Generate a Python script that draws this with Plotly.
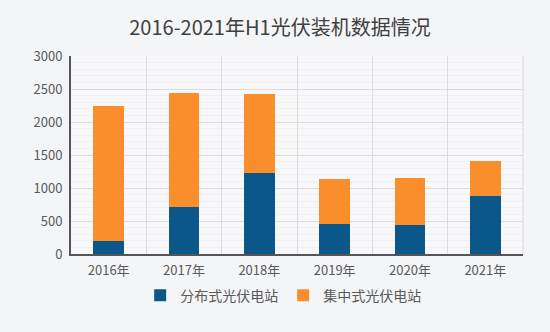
import plotly.graph_objects as go

years = ["2016年", "2017年", "2018年", "2019年", "2020年", "2021年"]
distributed = [190, 710, 1220, 450, 440, 875]
centralized = [2060, 1730, 1210, 690, 710, 535]
y_ticks = [0, 500, 1000, 1500, 2000, 2500, 3000]

font = "Noto Sans CJK SC, Open Sans, sans-serif"

fig = go.Figure()
fig.add_trace(go.Bar(x=years, y=distributed, name="分布式光伏电站",
                     marker=dict(color="#0b5789", line=dict(width=0))))
fig.add_trace(go.Bar(x=years, y=centralized, name="集中式光伏电站",
                     marker=dict(color="#fb8e2c", line=dict(width=0))))

fig.update_layout(
    width=550, height=332,
    barmode="stack", bargap=0.59,
    paper_bgcolor="#f4f5f7", plot_bgcolor="#f8f8fa",
    margin=dict(l=71, r=27, t=56, b=78),
    title=dict(text="2016-2021年H1光伏装机数据情况", x=0.509, xanchor="center",
               y=0.915, yanchor="middle",
               font=dict(family=font, size=20, color="#404040")),
    font=dict(family=font, size=13, color="#595959"),
    showlegend=True,
    legend=dict(orientation="h", x=0.153, xanchor="left", y=-0.13, yanchor="top",
                font=dict(size=14, color="#595959"), itemwidth=30,
                traceorder="normal", bgcolor="rgba(0,0,0,0)"),
    xaxis=dict(type="category", tickson="boundaries", showgrid=True,
               gridcolor="#dcdcdc", gridwidth=1, ticks="", showline=True,
               linecolor="#555555", linewidth=2, mirror=False,
               ticklabelstandoff=3,
               tickfont=dict(size=13, color="#595959")),
    yaxis=dict(range=[0, 3000], tickvals=y_ticks, showgrid=True,
               gridcolor="#dcdcdc", gridwidth=1, showline=True,
               linecolor="#555555", linewidth=2, zeroline=False, ticks="",
               ticklabelstandoff=4,
               tickfont=dict(size=13, color="#595959"),
               minor=dict(dtick=100, showgrid=True, gridcolor="#f0f0f3", gridwidth=1)),
)
fig.add_shape(type="line", xref="paper", yref="paper", x0=1, x1=1, y0=0, y1=1,
              line=dict(color="#dcdcdc", width=1))
fig.write_html("out.html")
